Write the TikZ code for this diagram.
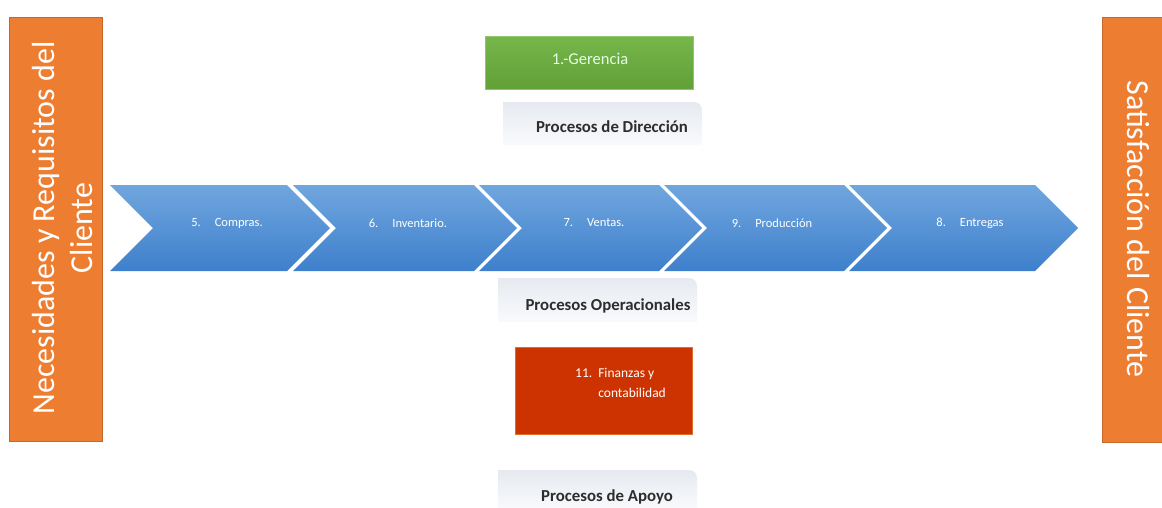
\documentclass[tikz,border=0pt]{standalone}
\usepackage{fontspec}
\setmainfont{Carlito}
\definecolor{orng}{RGB}{237,125,49}
\definecolor{orngdk}{RGB}{196,104,44}
\definecolor{chevtop}{RGB}{112,166,222}
\definecolor{chevbot}{RGB}{62,128,204}
\definecolor{grntop}{RGB}{118,182,74}
\definecolor{grnbot}{RGB}{98,160,56}
\definecolor{redbox}{RGB}{204,51,0}
\definecolor{redbrd}{RGB}{225,110,40}
\definecolor{lbltop}{RGB}{230,234,240}
\definecolor{lblbot}{RGB}{249,250,252}
\definecolor{lbltext}{RGB}{45,45,45}
\tikzset{
  sidetext/.style={text=white, align=center, font=\fontsize{32}{38}\selectfont},
  chevtext/.style={text=white, font=\fontsize{12.5}{14}\selectfont},
  lbltextstyle/.style={text=lbltext, font=\fontsize{16.8}{19}\selectfont\bfseries},
  lblbox/.style={top color=lbltop, bottom color=lblbot},
  chevshape/.style={top color=chevtop, bottom color=chevbot}
}
\begin{document}
\begin{tikzpicture}[x=1pt,y=-1pt]
\useasboundingbox (0,0) rectangle (1162,507);
\fill[white] (0,0) rectangle (1162,507);

% side boxes
\node[draw=orngdk, fill=orng, line width=0.8pt, minimum width=424pt, minimum height=93pt, rotate=90, inner sep=0pt] (needbox) at (55.5,229) {};
\node[sidetext, rotate=90] (needtext) at (63,228) {Necesidades y Requisitos del\\Cliente};
\node[draw=orngdk, fill=orng, line width=0.8pt, minimum width=425pt, minimum height=64pt, rotate=-90, inner sep=0pt] (satbox) at (1134,229.5) {};
\node[sidetext, rotate=-90] (sattext) at (1138,229) {Satisfacción del Cliente};

% green box
\node[draw=grntop!80!white, line width=0.5pt, top color=grntop, bottom color=grnbot, minimum width=208pt, minimum height=53pt, inner sep=0pt] (ger) at (589,62.5) {};
\node[text=white!90!green, font=\fontsize{16.5}{18}\selectfont] (gertext) at (590,59) {1.-Gerencia};

% label boxes
\shade[lblbox] (503,102) -- (694,102) arc[start angle=-90, end angle=0, radius=8] -- (702,145) -- (503,145) -- cycle;
\node[lbltextstyle] (dir) at (612,127) {Procesos de Dirección};
\shade[lblbox] (498,278) -- (689,278) arc[start angle=-90, end angle=0, radius=8] -- (697,322) -- (498,322) -- cycle;
\node[lbltextstyle] (ope) at (608,306) {Procesos Operacionales};
\shade[lblbox] (498,470) -- (689,470) arc[start angle=-90, end angle=0, radius=8] -- (697,510) -- (498,510) -- cycle;
\node[lbltextstyle] (apo) at (607,497) {Procesos de Apoyo};

% chevrons
\foreach \L/\T in {110/330, 293/517, 479/702, 664/887, 849/1078}{
  \shade[chevshape] (\L,185) -- (\T-43,185) -- (\T,228) -- (\T-43,271) -- (\L,271) -- (\L+43,228) -- cycle;
}
\node[chevtext] (c5) at (227,223) {5.\hspace{14pt}Compras.};
\node[chevtext] (c6) at (408,223) {6.\hspace{14pt}Inventario.};
\node[chevtext] (c7) at (594,223) {7.\hspace{14pt}Ventas.};
\node[chevtext] (c9) at (772,223) {9.\hspace{14pt}Producción};
\node[chevtext] (c8) at (970,223) {8.\hspace{14pt}Entregas};

% red box
\node[draw=redbrd, line width=0.6pt, fill=redbox, minimum width=177pt, minimum height=87pt, inner sep=0pt] (fin) at (603.5,390.5) {};
\node[text=white, anchor=west, inner sep=0pt, font=\fontsize{13.5}{20}\selectfont] (fintext) at (575,383)
  {\begin{tabular}{@{}l@{\hspace{6pt}}l@{}}11.&Finanzas y\\&contabilidad\end{tabular}};
\end{tikzpicture}
\end{document}
